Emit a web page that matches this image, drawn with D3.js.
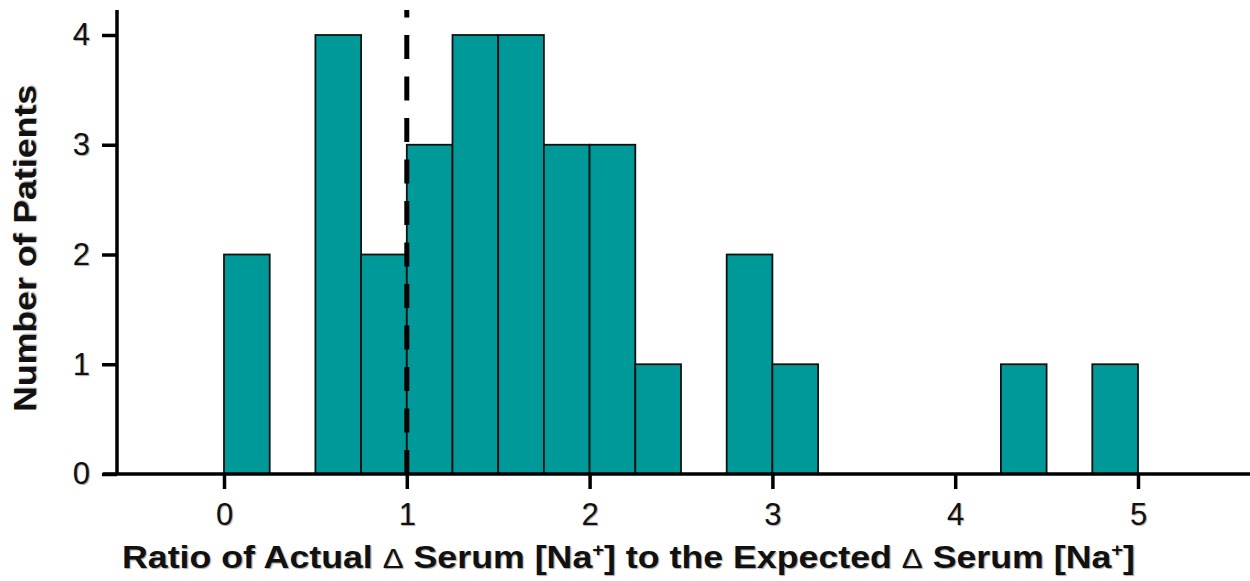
<!DOCTYPE html>
<html>
<head>
<meta charset="utf-8">
<script src="https://cdn.jsdelivr.net/npm/d3@7"></script>
<style>
  body { margin: 0; background: #fff; }
  svg text { font-family: "Liberation Sans", Arial, sans-serif; fill: #111; }
  .lbl { text-shadow: 1px 1px 1px #aaa; }
</style>
</head>
<body>
<div id="grafico"></div>
<script>
// histogram bins (ratio), width 0.25
var binStart = [0, 0.5, 0.75, 1, 1.25, 1.5, 1.75, 2, 2.25, 2.75, 3, 4.25, 4.75];
var binCount = [2, 4, 2, 3, 4, 4, 3, 3, 1, 2, 1, 1, 1];
var binWidth = 0.25;
var xTicks = [0, 1, 2, 3, 4, 5];
var yTicks = [0, 1, 2, 3, 4];
var refLine = 1;

var width = 1250, height = 581;

var svg = d3.select("#grafico").append("svg")
    .attr("width", width).attr("height", height);

var x = d3.scaleLinear().domain([0, 5]).range([224, 1138]);
var y = d3.scaleLinear().domain([0, 4]).range([474, 35]);

var data = binStart.map(function(d, i) { return { x0: d, x1: d + binWidth, n: binCount[i] }; });

// barras
svg.selectAll("rect").data(data).enter().append("rect")
    .attr("x", function(d) { return x(d.x0); })
    .attr("y", function(d) { return y(d.n); })
    .attr("width", function(d) { return x(d.x1) - x(d.x0); })
    .attr("height", function(d) { return y(0) - y(d.n); })
    .attr("fill", "#009999")
    .attr("stroke", "#111")
    .attr("stroke-width", 1.8);

// linha tracejada em 1
svg.append("line")
    .attr("x1", x(refLine)).attr("x2", x(refLine))
    .attr("y1", y(0)).attr("y2", 10)
    .attr("stroke", "#000").attr("stroke-width", 5)
    .attr("stroke-dasharray", "24,17.5");

// eixo x
var xAxis = svg.append("g").attr("transform", "translate(0," + y(0) + ")")
    .call(d3.axisBottom(x).tickValues(xTicks).tickSize(15).tickPadding(14).tickFormat(d3.format("d")));
xAxis.select(".domain").attr("d", "M103,0H1250");

// eixo y
var yAxis = svg.append("g").attr("transform", "translate(117,0)")
    .call(d3.axisLeft(y).tickValues(yTicks).tickSize(15).tickPadding(12).tickFormat(d3.format("d")));
yAxis.select(".domain").attr("d", "M0," + y(0) + "V10");

svg.selectAll(".domain, .tick line").attr("stroke", "#000").attr("stroke-width", 3.5);
svg.selectAll(".tick text").attr("class", "lbl").style("font-size", "31px").attr("fill", "#111");

// titulos dos eixos
svg.append("text").attr("class", "lbl")
    .attr("x", 122).attr("y", 568)
    .attr("textLength", 1013).attr("lengthAdjust", "spacingAndGlyphs")
    .style("font-size", "32px").style("font-weight", "bold")
    .html("Ratio of Actual <tspan font-weight='normal' font-size='28px'>\u0394</tspan> Serum [Na<tspan dy='-12' font-size='18px'>+</tspan><tspan dy='12'>] to the Expected </tspan><tspan font-weight='normal' font-size='28px'>\u0394</tspan> Serum [Na<tspan dy='-12' font-size='18px'>+</tspan><tspan dy='12'>]</tspan>");

svg.append("text").attr("class", "lbl")
    .attr("transform", "translate(36,412) rotate(-90)")
    .attr("textLength", 327).attr("lengthAdjust", "spacingAndGlyphs")
    .style("font-size", "32px").style("font-weight", "bold")
    .text("Number of Patients");
</script>
</body>
</html>
